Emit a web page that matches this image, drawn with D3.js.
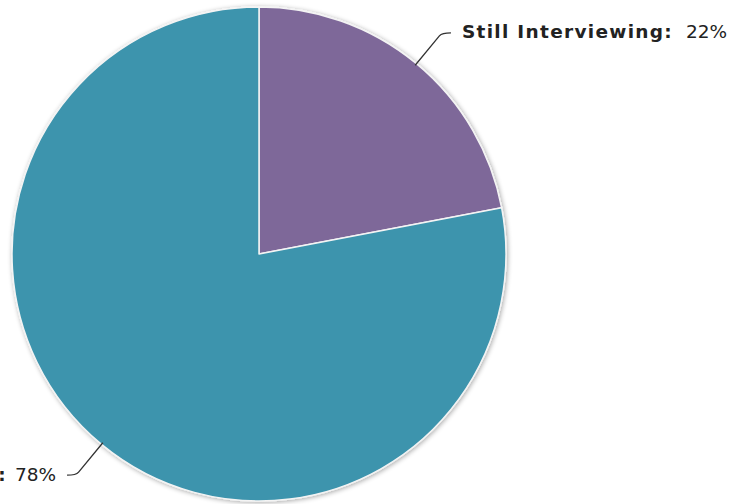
<!DOCTYPE html>
<html>
<head>
<meta charset="utf-8">
<script src="https://cdn.jsdelivr.net/npm/d3@7"></script>
<style>
  body { margin: 0; background: #fff; }
  .lbl { font-family: Verdana, "DejaVu Sans", sans-serif; font-size: 18.5px; fill: #222; }
  .lbl .name { font-weight: bold; letter-spacing: 1.3px; }
</style>
</head>
<body>
<div id="chart"></div>
<script>
var categories = ["Still Interviewing", "Hired"];
var percents = [22, 78];
var colors = ["#7e6899", "#3d94ad"];

let plotPie = ()=> {
  let width = 733, height = 504;
  let cx = 259, cy = 254, r = 247;

  let svg = d3.select('#chart').append('svg')
    .attr('width', width)
    .attr('height', height);

  // soft shadow round the pie
  let defs = svg.append('defs');
  let f = defs.append('filter').attr('id', 'shadow')
    .attr('x', '-10%').attr('y', '-10%').attr('width', '120%').attr('height', '120%');
  f.append('feGaussianBlur').attr('in', 'SourceAlpha').attr('stdDeviation', 2.5);
  f.append('feOffset').attr('dx', 1).attr('dy', 1).attr('result', 'blur');
  f.append('feComponentTransfer').append('feFuncA').attr('type', 'linear').attr('slope', 0.35);
  let m = f.append('feMerge');
  m.append('feMergeNode');
  m.append('feMergeNode').attr('in', 'SourceGraphic');

  let data = categories.map((c, i)=> { return {name: c, value: percents[i], color: colors[i]}; });

  let pie = d3.pie().sort(null).value((d)=> { return d.value; });
  let arc = d3.arc().innerRadius(0).outerRadius(r);
  let arcs = pie(data);

  let g = svg.append('g').attr('transform', 'translate(' + cx + ',' + cy + ')');

  g.append('g').attr('filter', 'url(#shadow)')
    .selectAll('path').data(arcs).enter()
    .append('path')
    .attr('d', arc)
    .attr('fill', (d)=> { return d.data.color; })
    .attr('stroke', '#f4f4f4')
    .attr('stroke-width', 1.5)
    .attr('stroke-linejoin', 'round');

  // connectors + labels
  let labels = g.append('g');
  arcs.forEach((d)=> {
    let a = (d.startAngle + d.endAngle) / 2;
    let sx = Math.sin(a), sy = -Math.cos(a);
    let right = sx >= 0 ? 1 : -1;
    let p0 = [sx * (r - 2), sy * (r - 2)];
    let p1 = [sx * (r + 40), sy * (r + 40)];
    let p2 = [p1[0] + right * 9, p1[1]];
    let bend = [p1[0] - sx * 4, p1[1] - sy * 4];
    labels.append('path')
      .attr('d', 'M' + p0 + 'L' + bend + 'Q' + p1 + ' ' + p2)
      .attr('fill', 'none')
      .attr('stroke', '#333')
      .attr('stroke-width', 1.3);

    let t = labels.append('text').attr('class', 'lbl')
      .attr('x', p2[0] + right * 11)
      .attr('y', p2[1] + 5.5)
      .attr('text-anchor', right > 0 ? 'start' : 'end');
    t.append('tspan').attr('class', 'name').text(d.data.name + ':');
    t.append('tspan').attr('dx', right > 0 ? 13 : 8).text(d.data.value + '%');
  });
};

plotPie();
</script>
</body>
</html>
